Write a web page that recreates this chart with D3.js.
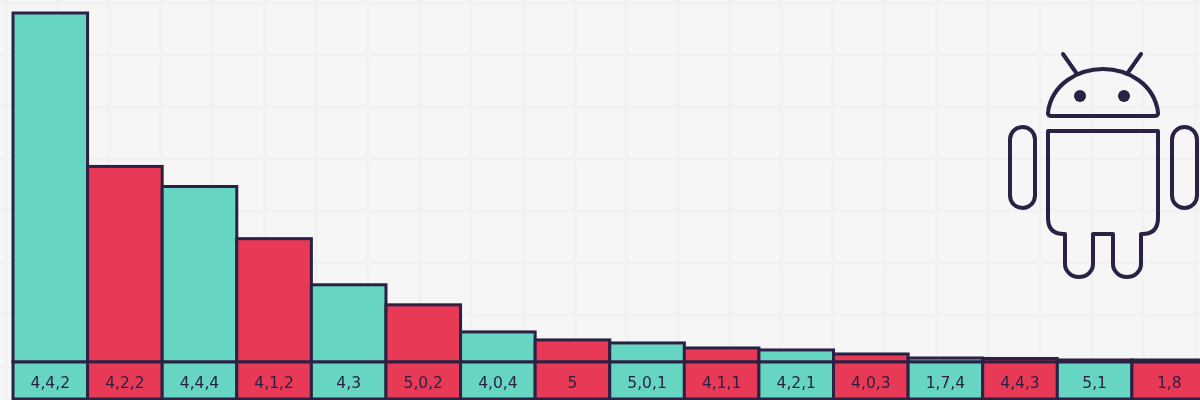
<!DOCTYPE html>
<html>
<head>
<meta charset="utf-8">
<script src="https://cdn.jsdelivr.net/npm/d3@7"></script>
<style>
  html, body { margin: 0; padding: 0; background: #f6f6f6; overflow: hidden; }
  svg { display: block; filter: blur(0.5px); }
  .tick text { font-family: "DejaVu Sans", sans-serif; font-size: 15.5px; fill: #2b2144; }
</style>
</head>
<body>
<div class="chart"></div>
<script>
// Chart data
var versions = ["4,4,2", "4,2,2", "4,4,4", "4,1,2", "4,3", "5,0,2", "4,0,4", "5", "5,0,1", "4,1,1", "4,2,1", "4,0,3", "1,7,4", "4,4,3", "5,1", "1,8"];
var shares = [34.8, 19.5, 17.5, 12.3, 7.7, 5.7, 3, 2.2, 1.9, 1.4, 1.2, 0.8, 0.4, 0.35, 0.2, 0.2];
var barColors = ["#66d6c2", "#e83a56"];
var ink = "#2b2144";

var svgWidth = 1200;
var svgHeight = 400;

var margin = { top: 13, right: 0, bottom: 38, left: 13 };
var height = svgHeight - margin.top - margin.bottom;

var svg = d3.select(".chart")
  .append("svg")
  .attr("width", svgWidth)
  .attr("height", svgHeight);

// Faint paper grid in the background
var defs = svg.append("defs");
var paper = defs.append("pattern")
  .attr("id", "paper")
  .attr("patternUnits", "userSpaceOnUse")
  .attr("x", 4)
  .attr("y", 1)
  .attr("width", 51.7)
  .attr("height", 52);
paper.append("path")
  .attr("d", "M2 0V52M0 2H51.7")
  .attr("stroke", "#f1f1f1")
  .attr("stroke-width", 3)
  .attr("fill", "none");

svg.append("rect")
  .attr("width", svgWidth)
  .attr("height", svgHeight)
  .attr("fill", "#f6f6f6");
svg.append("rect")
  .attr("width", svgWidth)
  .attr("height", svgHeight)
  .attr("fill", "url(#paper)");

// Scales
var x = d3.scaleBand()
  .domain(versions)
  .range([margin.left, 1206.5]);

var y = d3.scaleLinear()
  .domain([0, 34.8])
  .range([margin.top + height, margin.top]);

var stripTop = margin.top + height;

// Bars
svg.selectAll(".bar")
  .data(versions)
  .enter()
  .append("rect")
  .attr("class", "bar")
  .attr("x", d => x(d))
  .attr("y", (d, i) => y(shares[i]))
  .attr("width", x.bandwidth())
  .attr("height", (d, i) => y(0) - y(shares[i]))
  .attr("fill", (d, i) => barColors[i % 2])
  .attr("stroke", ink)
  .attr("stroke-width", 3);

// Label strip under the bars
svg.selectAll(".cell")
  .data(versions)
  .enter()
  .append("rect")
  .attr("class", "cell")
  .attr("x", d => x(d))
  .attr("y", stripTop)
  .attr("width", x.bandwidth())
  .attr("height", 37)
  .attr("fill", (d, i) => barColors[i % 2])
  .attr("stroke", ink)
  .attr("stroke-width", 3);

svg.append("g")
  .attr("transform", `translate(0, ${stripTop + 8})`)
  .call(d3.axisBottom(x).tickSize(0).tickPadding(7))
  .call(g => g.select(".domain").remove());

// Android logo
var logo = svg.append("g")
  .attr("transform", "translate(1048, 54)")
  .attr("fill", "none")
  .attr("stroke", ink)
  .attr("stroke-width", 4)
  .attr("stroke-linecap", "round")
  .attr("stroke-linejoin", "round");

logo.append("path").attr("d", "M15 0L29 20M93 0L79 20");
logo.append("path").attr("d", "M0 58C4 30 30 15 55 15C80 15 106 30 110 58Q111 62 106 62H4Q-1 62 0 58Z");
logo.append("path").attr("d", "M0 77H110V164Q110 180 94 180H93V210A14 13 0 0 1 65 210V180H45V210A14 13 0 0 1 17 210V180H16Q0 180 0 164Z");
logo.append("rect").attr("x", -38).attr("y", 73).attr("width", 25).attr("height", 81).attr("rx", 12.5);
logo.append("rect").attr("x", 124).attr("y", 73).attr("width", 25).attr("height", 81).attr("rx", 12.5);
logo.selectAll("circle")
  .data([32, 76])
  .enter()
  .append("circle")
  .attr("cx", d => d)
  .attr("cy", 42)
  .attr("r", 6)
  .attr("fill", ink)
  .attr("stroke", "none");
</script>
</body>
</html>
